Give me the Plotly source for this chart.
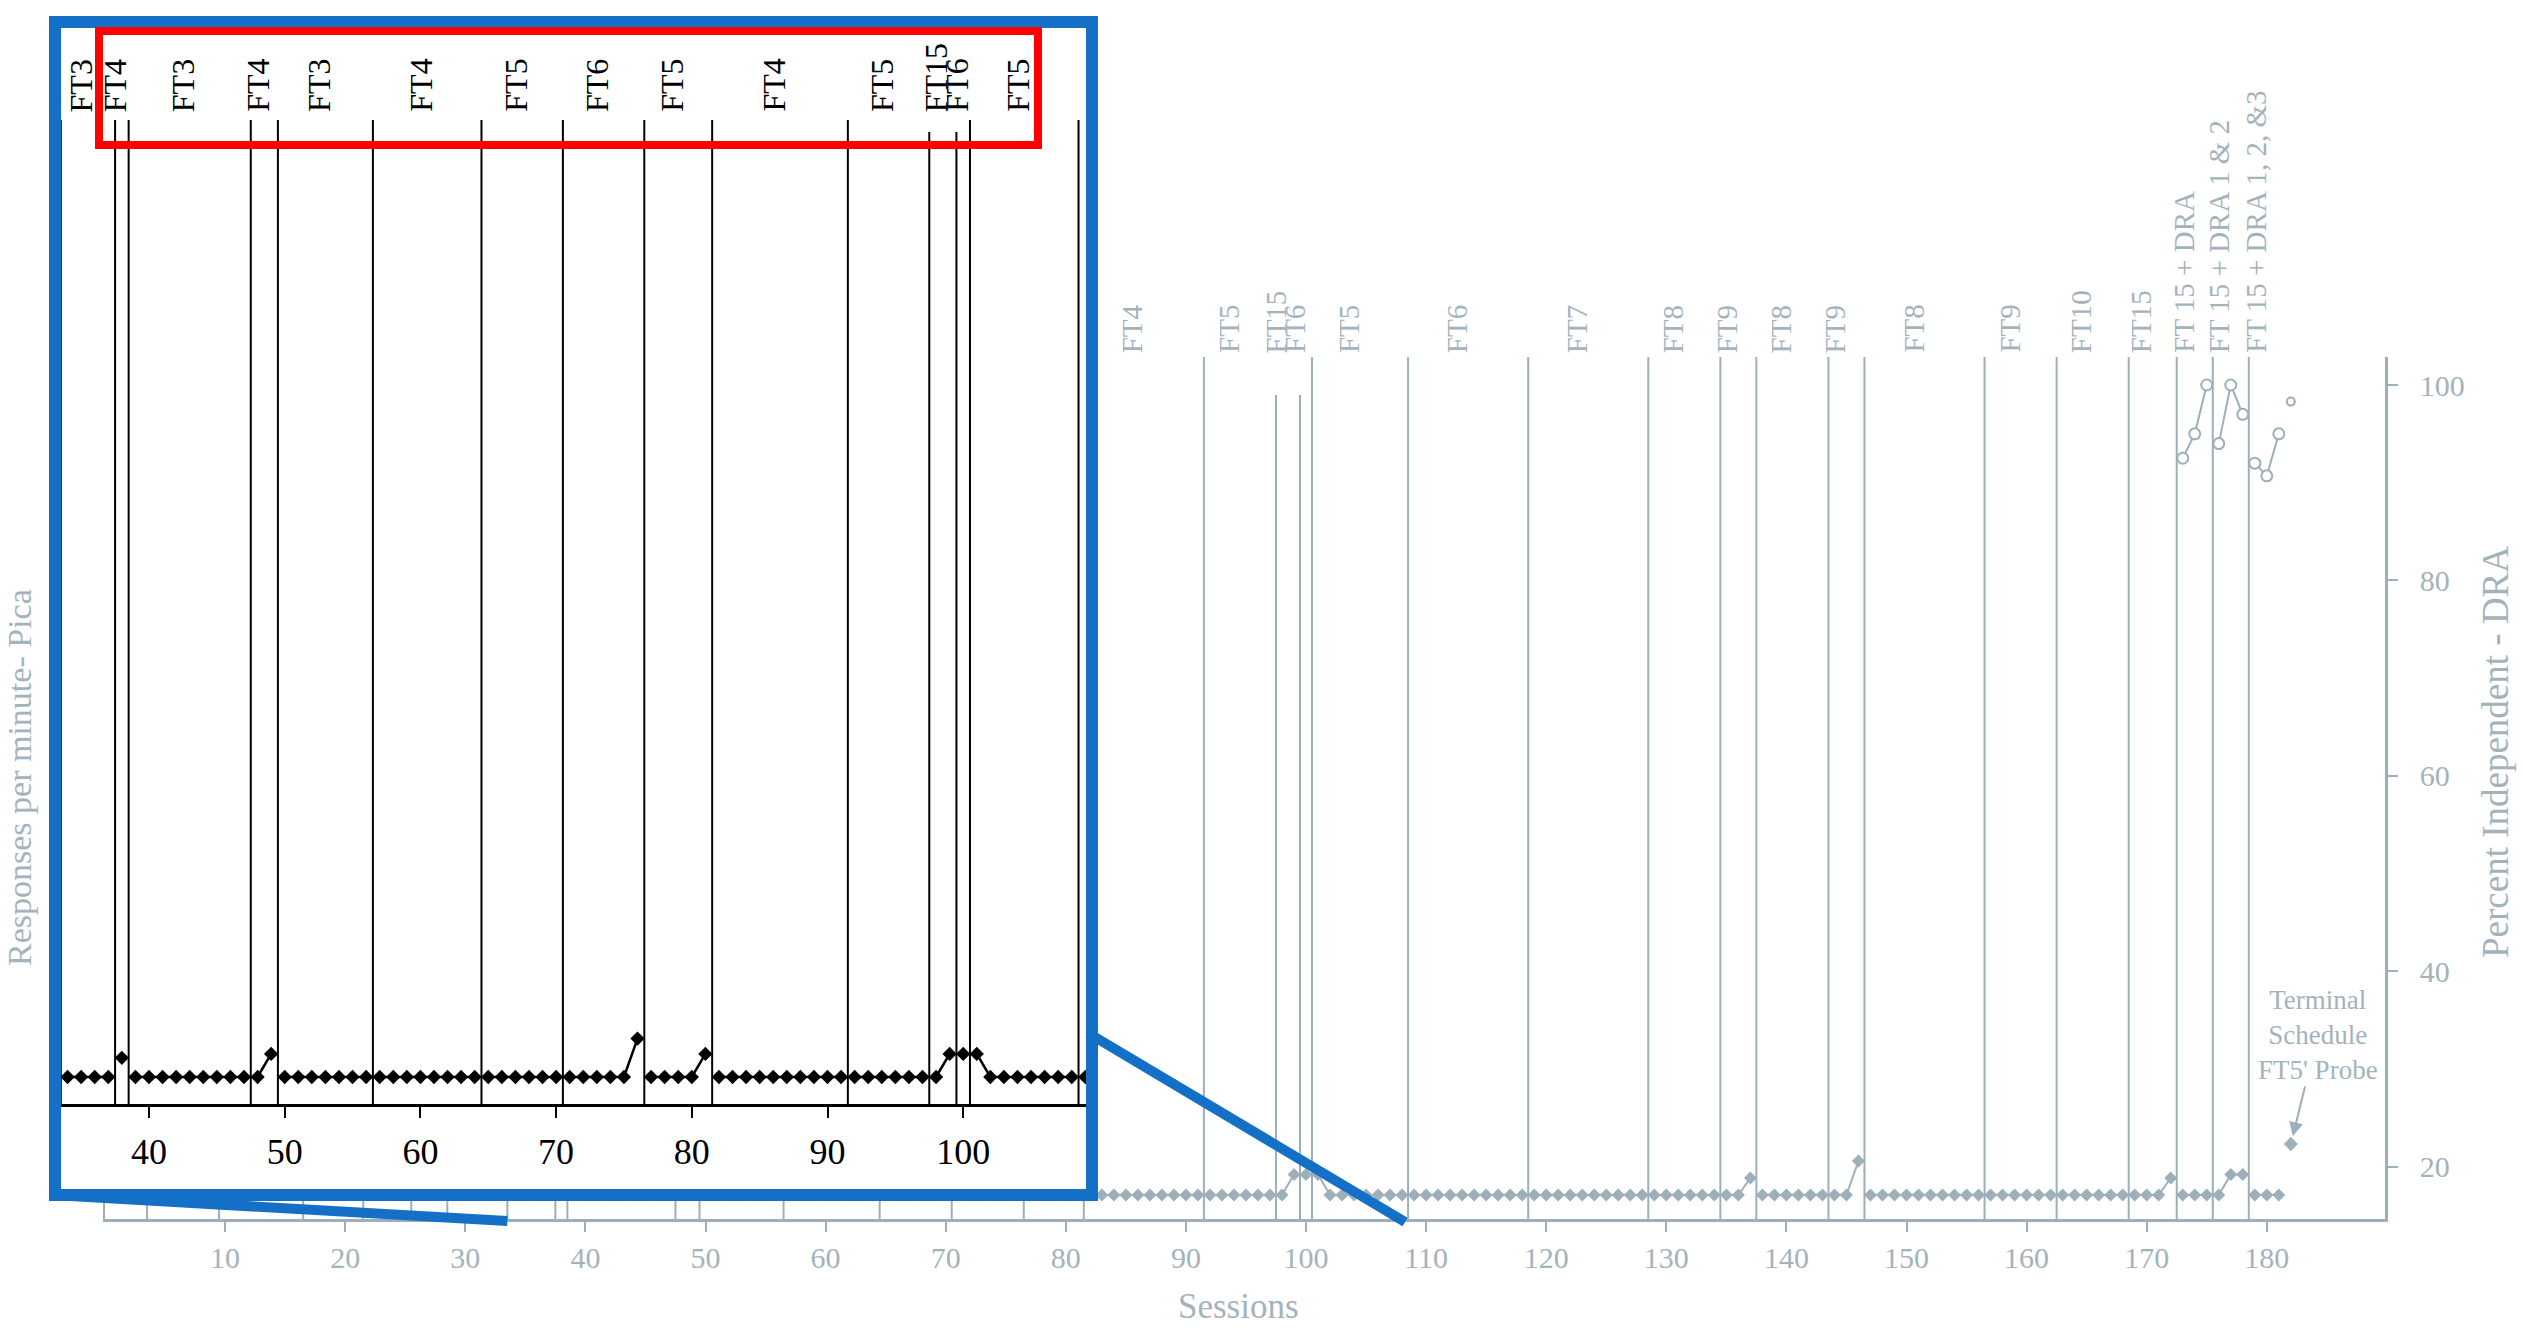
import plotly.graph_objects as go

W, H = 2522, 1333

# ---------------------------------------------------------------- data
sessions = list(range(1, 182))
pica_rate = [
    0, 0, 0, 0, 0, 0, 0, 0, 0, 0,            # 1-10
    0, 0, 0, 0, 0, 0, 0, 0, 0, 0,            # 11-20
    0, 0, 0, 0, 0, 0, 0, 0, 0, 0,            # 21-30
    0, 0, 0, 0, 0, 0, 0, 0.1, 0, 0,          # 31-40
    0, 0, 0, 0, 0, 0, 0, 0, 0.12, 0,         # 41-50
    0, 0, 0, 0, 0, 0, 0, 0, 0, 0,            # 51-60
    0, 0, 0, 0, 0, 0, 0, 0, 0, 0,            # 61-70
    0, 0, 0, 0, 0, 0.2, 0, 0, 0, 0,          # 71-80
    0.12, 0, 0, 0, 0, 0, 0, 0, 0, 0,         # 81-90
    0, 0, 0, 0, 0, 0, 0, 0, 0.12, 0.12,      # 91-100
    0.12, 0, 0, 0, 0, 0, 0, 0, 0, 0,         # 101-110
    0, 0, 0, 0, 0, 0, 0, 0, 0, 0,            # 111-120
    0, 0, 0, 0, 0, 0, 0, 0, 0, 0,            # 121-130
    0, 0, 0, 0, 0, 0, 0.1, 0, 0, 0,          # 131-140
    0, 0, 0, 0, 0, 0.2, 0, 0, 0, 0,          # 141-150
    0, 0, 0, 0, 0, 0, 0, 0, 0, 0,            # 151-160
    0, 0, 0, 0, 0, 0, 0, 0, 0, 0,            # 161-170
    0, 0.1, 0, 0, 0, 0, 0.12, 0.12, 0, 0,    # 171-180
    0,                                       # 181
]
probe_session = [182]
probe_pica = [0.3]

dra_sessions = [173, 174, 175, 176, 177, 178, 179, 180, 181]
dra_percent = [92.5, 95, 100, 94, 100, 97, 92, 90.7, 95]
probe_dra = [98.3]

phase_changes = [3.5, 9.5, 16.5, 21.5, 25.5, 28.5, 33.5, 37.5, 38.5, 47.5,
                 49.5, 56.5, 64.5, 70.5, 76.5, 81.5, 91.5, 97.5, 99.5, 100.5,
                 108.5, 118.5, 128.5, 134.5, 137.5, 143.5, 146.5, 156.5,
                 162.5, 168.5, 172.5, 175.5, 178.5]

condition_bounds = [33.5, 37.5, 38.5, 47.5, 49.5, 56.5, 64.5, 70.5, 76.5,
                    81.5, 91.5, 97.5, 99.5, 100.5, 108.5, 118.5, 128.5,
                    134.5, 137.5, 143.5, 146.5, 156.5, 162.5, 168.5, 172.5,
                    175.5, 178.5, 181.5]
condition_names = ["FT3", "FT4", "FT3", "FT4", "FT3", "FT4", "FT5", "FT6",
                   "FT5", "FT4", "FT5", "FT15", "FT6", "FT5", "FT6", "FT7",
                   "FT8", "FT9", "FT8", "FT9", "FT8", "FT9", "FT10", "FT15",
                   "FT 15 + DRA", "FT 15 + DRA 1 & 2", "FT 15 + DRA 1, 2, &3"]

session_ticks = [10, 20, 30, 40, 50, 60, 70, 80, 90, 100, 110, 120, 130,
                 140, 150, 160, 170, 180]
dra_ticks = [20, 40, 60, 80, 100]
inset_ticks = [40, 50, 60, 70, 80, 90, 100, 110]

# ---------------------------------------------------------------- style
FONT = "Liberation Serif"
GREY = "#9DAFB9"
GREY_TXT = "#A3B3BC"
BLACK = "#000000"
BLUE = "#1470C6"
RED = "#FF0000"


def fx(px):
    return px / W


def fy(py):
    return 1 - py / H


# main panel geometry (pixels)
M_L, M_R, M_T, M_B = 105, 2385, 357, 1219
X_PER = 12.01                       # px per session
PICA_ZERO, PICA_PER = 1195, 170     # px of 0 resp/min, px per resp/min
DRA_100, DRA_PER = 385, 9.77        # px of 100 %, px per percent

x_range = [0, (M_R - M_L) / X_PER]
pica_range = [(PICA_ZERO - M_B) / PICA_PER, (PICA_ZERO - M_T) / PICA_PER]
dra_range = [100 - (M_B - DRA_100) / DRA_PER, 100 + (DRA_100 - M_T) / DRA_PER]

# enlarged panel geometry (pixels)
I_L, I_R, I_T, I_B = 56, 1094, 29, 1198
I_X40, I_XPER = 149, 13.57
I_ZERO, I_PER = 1077, 192
I_AXIS = 1105
ix_range = [40 - (I_X40 - I_L) / I_XPER, 40 + (I_R - I_X40) / I_XPER]
iy_range = [(I_ZERO - I_B) / I_PER, (I_ZERO - I_T) / I_PER]


def main_px(s):
    return M_L + s * X_PER


def split_by_phase(xs, ys, bounds):
    out_x, out_y = [], []
    for i, (x, y) in enumerate(zip(xs, ys)):
        if i > 0 and any(xs[i - 1] < b < x for b in bounds):
            out_x.append(None)
            out_y.append(None)
        out_x.append(x)
        out_y.append(y)
    return out_x, out_y


fig = go.Figure()

# ---------------------------------------------------------------- main panel
px_, py_ = split_by_phase(sessions, pica_rate, phase_changes)
fig.add_trace(go.Scatter(
    x=px_, y=py_, xaxis="x", yaxis="y", mode="lines+markers",
    line=dict(color=GREY, width=2),
    marker=dict(symbol="diamond", size=10, color=GREY),
    hoverinfo="skip"))
fig.add_trace(go.Scatter(
    x=probe_session, y=probe_pica, xaxis="x", yaxis="y", mode="markers",
    marker=dict(symbol="diamond", size=11, color=GREY), hoverinfo="skip"))

dx_, dy_ = split_by_phase(dra_sessions, dra_percent, phase_changes)
fig.add_trace(go.Scatter(
    x=dx_, y=dy_, xaxis="x", yaxis="y2", mode="lines+markers",
    line=dict(color=GREY, width=2),
    marker=dict(symbol="circle", size=11, color="white",
                line=dict(color=GREY, width=2)),
    hoverinfo="skip"))
fig.add_trace(go.Scatter(
    x=probe_session, y=probe_dra, xaxis="x", yaxis="y2", mode="markers",
    marker=dict(symbol="circle", size=8, color="white",
                line=dict(color=GREY, width=2)),
    hoverinfo="skip"))

# ---------------------------------------------------------------- enlarged panel
fig.add_trace(go.Scatter(
    x=px_, y=py_, xaxis="x3", yaxis="y3", mode="lines+markers",
    line=dict(color=BLACK, width=2.5),
    marker=dict(symbol="diamond", size=11, color=BLACK),
    hoverinfo="skip"))

shapes = []
short_tops = {97.5: 395, 99.5: 395}
for b in phase_changes:
    top = short_tops.get(b, M_T)
    shapes.append(dict(
        type="line", xref="x", yref="y", layer="below",
        x0=b, x1=b,
        y0=pica_range[0], y1=(PICA_ZERO - top) / PICA_PER,
        line=dict(color=GREY, width=2)))

# white backing for the enlarged panel
shapes.append(dict(
    type="rect", xref="x3", yref="y3", layer="below",
    x0=ix_range[0], x1=ix_range[1], y0=iy_range[0], y1=iy_range[1],
    fillcolor="white", line=dict(width=0)))

inset_short = {97.5: 132, 99.5: 132}
for b in phase_changes:
    if ix_range[0] < b < ix_range[1]:
        top = inset_short.get(b, 120)
        shapes.append(dict(
            type="line", xref="x3", yref="y3", layer="below",
            x0=b, x1=b,
            y0=(I_ZERO - I_AXIS) / I_PER, y1=(I_ZERO - top) / I_PER,
            line=dict(color=BLACK, width=2)))

# frame, highlight box and connectors
zoom_lo, zoom_hi = condition_bounds[0], condition_bounds[14]
shapes += [
    dict(type="line", xref="paper", yref="paper", layer="above",
         x0=fx(53), y0=fy(1195), x1=fx(main_px(zoom_lo)), y1=fy(1221),
         line=dict(color=BLUE, width=10)),
    dict(type="line", xref="paper", yref="paper", layer="above",
         x0=fx(1088), y0=fy(1033), x1=fx(main_px(zoom_hi) - 3), y1=fy(1222),
         line=dict(color=BLUE, width=10)),
    dict(type="rect", xref="paper", yref="paper", layer="above",
         x0=fx(55), x1=fx(1092), y0=fy(1195), y1=fy(22),
         line=dict(color=BLUE, width=12)),
    dict(type="rect", xref="paper", yref="paper", layer="above",
         x0=fx(99), x1=fx(1038), y0=fy(145), y1=fy(31),
         line=dict(color=RED, width=8)),
]

# ---------------------------------------------------------------- labels
annotations = []
for i, name in enumerate(condition_names):
    start, end = condition_bounds[i], condition_bounds[i + 1]
    mid = (start + end) / 2
    if end <= zoom_hi:
        annotations.append(dict(
            x=mid, xref="x3", y=fy(114), yref="paper",
            xanchor="center", yanchor="bottom",
            text=name, textangle=-90, showarrow=False, xshift=-7,
            font=dict(family=FONT, size=32, color=BLACK)))
    if start >= condition_bounds[9]:
        annotations.append(dict(
            x=mid, xref="x", y=fy(355), yref="paper",
            xanchor="center", yanchor="bottom",
            text=name, textangle=-90, showarrow=False, xshift=-11,
            font=dict(family=FONT, size=29, color=GREY_TXT)))

annotations += [
    dict(x=fx(19), y=fy(778), xref="paper", yref="paper",
         xanchor="center", yanchor="middle",
         text="Responses per minute- Pica", textangle=-90, showarrow=False,
         font=dict(family=FONT, size=34, color=GREY_TXT)),
    dict(x=fx(2496), y=fy(752), xref="paper", yref="paper",
         xanchor="center", yanchor="middle",
         text="Percent Independent - DRA", textangle=-90, showarrow=False,
         font=dict(family=FONT, size=37, color=GREY_TXT)),
    dict(x=fx(1238), y=fy(1306), xref="paper", yref="paper",
         xanchor="center", yanchor="middle",
         text="Sessions", showarrow=False,
         font=dict(family=FONT, size=35, color=GREY_TXT)),
    dict(x=probe_session[0], y=probe_pica[0], xref="x", yref="y",
         text="Terminal<br>Schedule<br>FT5' Probe", showarrow=True,
         ax=27, ay=-109, arrowhead=2, arrowsize=1.4, arrowwidth=2,
         arrowcolor=GREY, standoff=8,
         font=dict(family=FONT, size=27, color=GREY_TXT)),
]

axis_common = dict(showgrid=False, zeroline=False)
fig.update_layout(
    width=W, height=H, autosize=False,
    margin=dict(l=0, r=0, t=0, b=0),
    paper_bgcolor="white", plot_bgcolor="white",
    showlegend=False,
    font=dict(family=FONT, color=GREY_TXT),
    xaxis=dict(domain=[fx(M_L), fx(M_R)], range=x_range, anchor="y",
               showline=True, linecolor=GREY, linewidth=2.5,
               ticks="outside", ticklen=10, tickwidth=2, tickcolor=GREY,
               tickvals=session_ticks, ticklabelstandoff=0,
               tickfont=dict(family=FONT, size=30, color=GREY_TXT),
               automargin=False, **axis_common),
    yaxis=dict(domain=[fy(M_B), fy(M_T)], range=pica_range, anchor="x",
               showline=True, linecolor=GREY, linewidth=2,
               ticks="", showticklabels=False, automargin=False,
               **axis_common),
    yaxis2=dict(range=dra_range, overlaying="y", side="right", anchor="x",
                showline=True, linecolor=GREY, linewidth=2.5,
                ticks="outside", ticklen=10, tickwidth=2, tickcolor=GREY,
                tickvals=dra_ticks, ticklabelstandoff=16,
                tickfont=dict(family=FONT, size=30, color=GREY_TXT),
                automargin=False, **axis_common),
    xaxis3=dict(domain=[fx(I_L), fx(I_R)], range=ix_range, anchor="free",
                position=fy(I_AXIS),
                showline=True, linecolor=BLACK, linewidth=2.5,
                ticks="outside", ticklen=11, tickwidth=2, tickcolor=BLACK,
                tickvals=inset_ticks, ticklabelstandoff=3,
                tickfont=dict(family=FONT, size=36, color=BLACK),
                automargin=False, **axis_common),
    yaxis3=dict(domain=[fy(I_B), fy(I_T)], range=iy_range, anchor="x3",
                visible=False, **axis_common),
    shapes=shapes,
    annotations=annotations,
)

fig.write_html("out.html")
